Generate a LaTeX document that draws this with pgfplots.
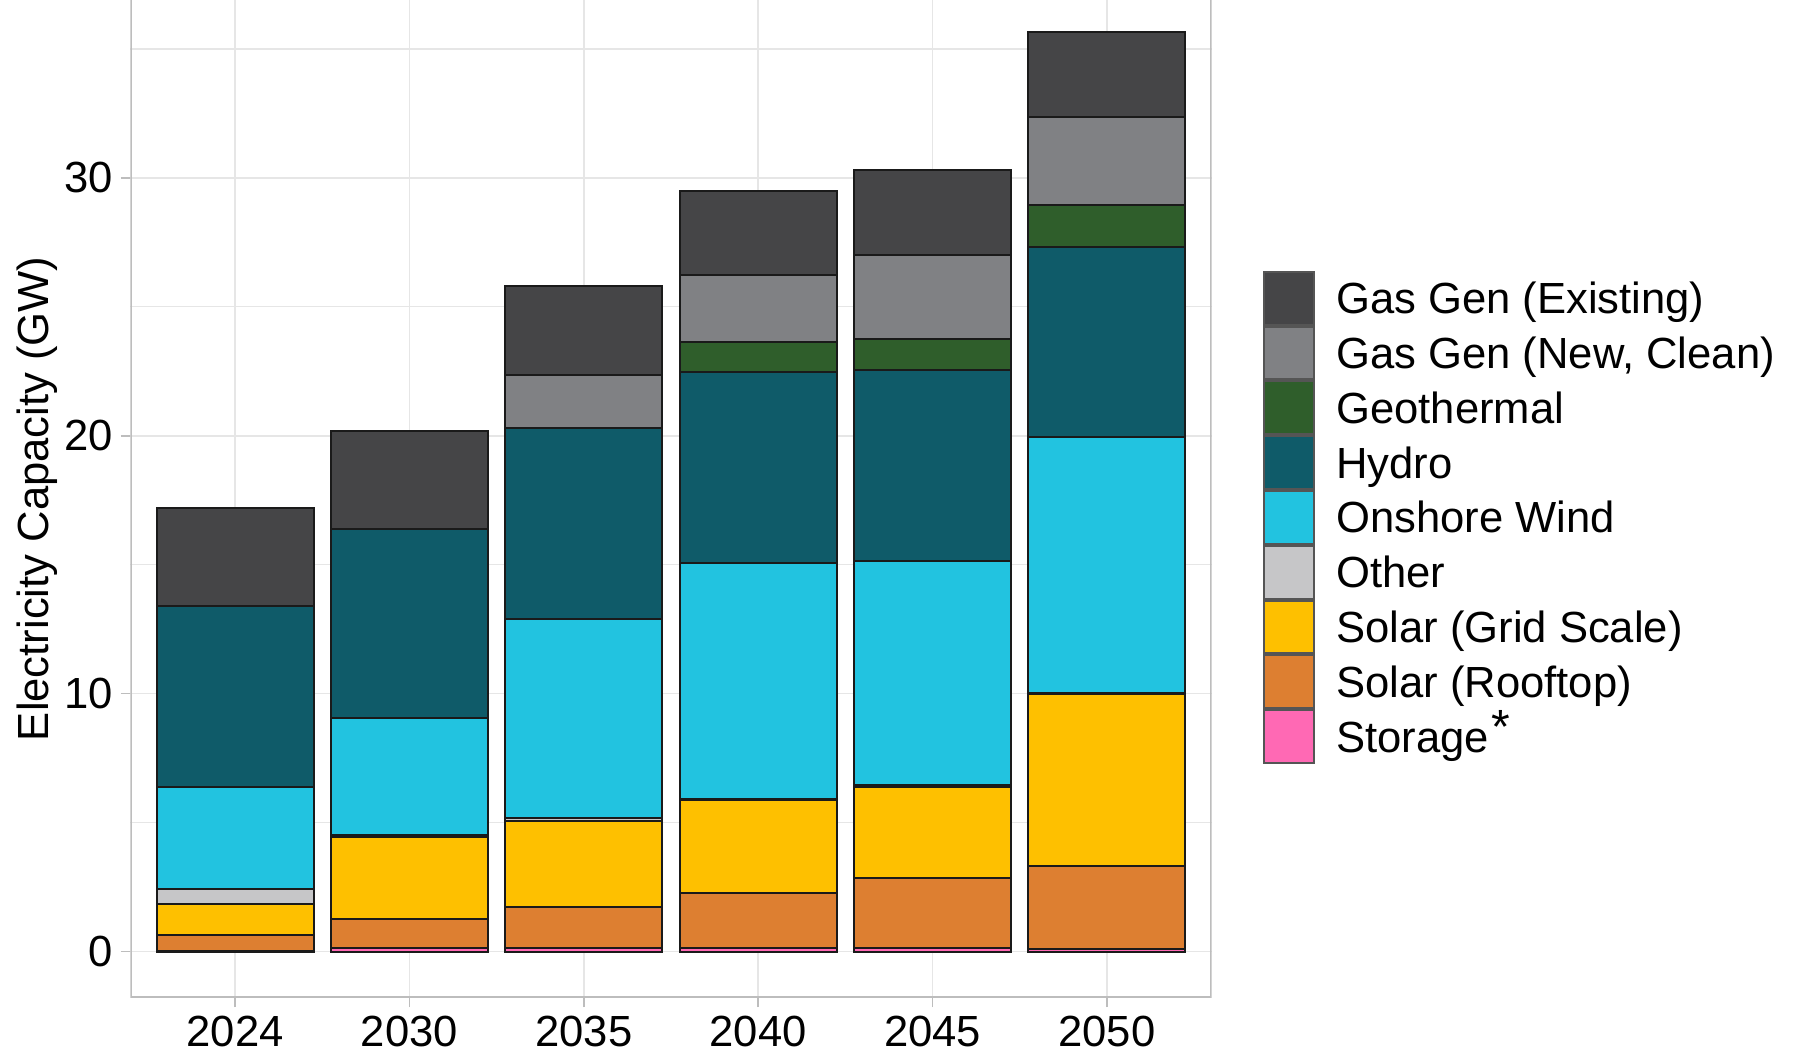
\documentclass[border=0pt]{standalone}
\usepackage{fontspec}
\setmainfont{Liberation Sans}
\usepackage{pgfplots}
\pgfplotsset{compat=1.18}
\definecolor{cGasE}{HTML}{454547}
\definecolor{cGasN}{HTML}{808184}
\definecolor{cGeo}{HTML}{2F5E2B}
\definecolor{cHyd}{HTML}{0F5B69}
\definecolor{cWind}{HTML}{22C3E0}
\definecolor{cOth}{HTML}{C6C6C8}
\definecolor{cGrid}{HTML}{FEC000}
\definecolor{cRoof}{HTML}{DD7F31}
\definecolor{cSto}{HTML}{FF69B4}
\definecolor{gridc}{HTML}{E6E6E6}
\definecolor{borderc}{HTML}{BDBDBD}
\definecolor{barline}{HTML}{1A1A1A}
\definecolor{keyline}{HTML}{555555}
\newcommand\fs{\fontsize{10.9pt}{13pt}\selectfont}
\begin{document}
\begin{tikzpicture}
\fill[white] (0,0) rectangle (452.75pt,264pt);
\useasboundingbox (0,0) rectangle (452.75pt,264pt);
\begin{axis}[
  at={(32.6pt,14.6pt)}, anchor=south west,
  scale only axis, width=270.3pt, height=249.4pt,
  xmin=-0.6, xmax=5.6, ymin=-1.785, ymax=36.9,
  ybar stacked, bar width=0.9,
  xtick={0,1,2,3,4,5}, xticklabels={2024,2030,2035,2040,2045,2050},
  ytick={0,10,20,30}, minor ytick={5,15,25,35},
  grid=both,
  major grid style={color=gridc, line width=0.4pt},
  minor grid style={color=gridc, line width=0.3pt},
  axis line style={draw=none},
  tick align=outside, tick pos=left,
  major tick length=2.4pt, minor tick length=0pt,
  tick style={color=borderc, line width=0.4pt},
  ticklabel style={font=\fs, text=black},
  /pgf/number format/assume math mode=true,
  xticklabel style={inner sep=0pt, anchor=north, text height=7.8pt, yshift=-1.8pt},
  yticklabel style={inner sep=0pt, anchor=east, xshift=-1.7pt},
  ylabel={Electricity Capacity (GW)},
  every axis y label/.style={at={(axis description cs:-0.0864,0.5)}, rotate=90, anchor=center, font=\fs},
  area legend,
  legend image code/.code={\draw[#1, draw=keyline, line width=0.5pt] (0pt,-6.6pt) rectangle (12.6pt,6.6pt);},
  reverse legend,
  legend style={at={(axis description cs:1.0476,0.7286)}, anchor=north west,
    draw=none, fill=none, inner sep=0pt, outer sep=0pt, row sep=0pt,
    font=\fs, cells={anchor=west},
    nodes={inner sep=0pt, text height=10.5pt, text depth=2.7pt},
    /tikz/every odd column/.append style={column sep=5.2pt}},
]
\addplot[fill=cSto, draw=barline, line width=0.5pt] coordinates {(0,0.02) (1,0.15) (2,0.13) (3,0.15) (4,0.15) (5,0.08)};
\addlegendentry{Storage\kern0.6pt\raisebox{2.2pt}{\large*}}
\addplot[fill=cRoof, draw=barline, line width=0.5pt] coordinates {(0,0.63) (1,1.11) (2,1.61) (3,2.13) (4,2.69) (5,3.25)};
\addlegendentry{Solar (Rooftop)}
\addplot[fill=cGrid, draw=barline, line width=0.5pt] coordinates {(0,1.20) (1,3.17) (2,3.34) (3,3.58) (4,3.55) (5,6.67)};
\addlegendentry{Solar (Grid Scale)}
\addplot[fill=cOth, draw=barline, line width=0.5pt] coordinates {(0,0.58) (1,0.08) (2,0.08) (3,0.06) (4,0.05) (5,0.04)};
\addlegendentry{Other}
\addplot[fill=cWind, draw=barline, line width=0.5pt] coordinates {(0,3.97) (1,4.56) (2,7.73) (3,9.13) (4,8.70) (5,9.92)};
\addlegendentry{Onshore Wind}
\addplot[fill=cHyd, draw=barline, line width=0.5pt] coordinates {(0,7.01) (1,7.32) (2,7.43) (3,7.41) (4,7.41) (5,7.36)};
\addlegendentry{Hydro}
\addplot[fill=cGeo, draw=barline, line width=0.5pt] coordinates {(0,0) (1,0) (2,0) (3,1.19) (4,1.21) (5,1.64)};
\addlegendentry{Geothermal}
\addplot[fill=cGasN, draw=barline, line width=0.5pt] coordinates {(0,0) (1,0) (2,2.05) (3,2.57) (4,3.26) (5,3.41)};
\addlegendentry{Gas Gen (New, Clean)}
\addplot[fill=cGasE, draw=barline, line width=0.5pt] coordinates {(0,3.79) (1,3.81) (2,3.43) (3,3.27) (4,3.28) (5,3.30)};
\addlegendentry{Gas Gen (Existing)}
\draw[borderc, line width=0.55pt] (rel axis cs:0,1) -- (rel axis cs:0,0) -- (rel axis cs:1,0) -- (rel axis cs:1,1);
\end{axis}
\end{tikzpicture}
\end{document}
